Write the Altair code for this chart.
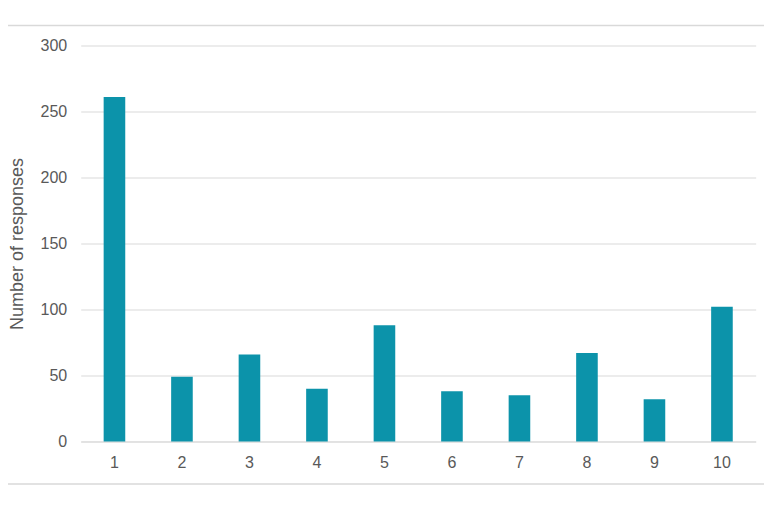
import altair as alt
import pandas as pd

categories = ["1", "2", "3", "4", "5", "6", "7", "8", "9", "10"]
responses = [261, 49, 66, 40, 88, 38, 35, 67, 32, 102]

df = pd.DataFrame({"rating": categories, "count": responses})

PL, PT = 72.7, 37.5
W, H = 675, 396
SVG_W, SVG_H = 756, 488

bars = alt.Chart(df).mark_bar(color="#0C93AA").encode(
    x=alt.X("rating:N", sort=categories,
            scale=alt.Scale(paddingInner=0.68, paddingOuter=0.34),
            axis=alt.Axis(title=None, labelAngle=0, labelFontSize=16, labelColor="#595959",
                          labelFont="Liberation Sans", labelPadding=13, ticks=False,
                          domainColor="#d9d9d9", domainWidth=1)),
    y=alt.Y("count:Q", scale=alt.Scale(domain=[0, 300]),
            axis=alt.Axis(title="Number of responses", values=[0, 50, 100, 150, 200, 250, 300],
                          labelFontSize=16, labelColor="#595959", labelFont="Liberation Sans",
                          labelPadding=14, ticks=False, domain=False,
                          gridColor="#d9d9d9", gridWidth=1,
                          titleFont="Liberation Sans", titleFontSize=18, titleFontWeight="normal",
                          titleColor="#595959", titlePadding=14)),
)

line_df = pd.DataFrame({"pos": ["top", "bottom"]})
top_rule = alt.Chart(line_df).transform_filter("datum.pos == 'top'").mark_rule(
    color="#d9d9d9", strokeWidth=1.5).encode(
    x=alt.value(-PL), x2=alt.value(SVG_W - PL), y=alt.value(25.5 - 8 - PT))
bottom_rule = alt.Chart(line_df).transform_filter("datum.pos == 'bottom'").mark_rule(
    color="#d9d9d9", strokeWidth=1.5).encode(
    x=alt.value(-PL), x2=alt.value(SVG_W - PL), y=alt.value(484 - 8 - PT))

chart = alt.layer(bars, top_rule, bottom_rule).properties(
    width=W, height=H,
    autosize=alt.AutoSizeParams(type="none"),
    padding={"left": PL, "top": PT, "right": SVG_W - PL - W, "bottom": SVG_H - PT - H},
).configure_view(stroke=None).configure_axis(grid=True).configure_axisX(grid=False)

chart.save("out.html", embed_options={"renderer": "svg", "actions": False})
